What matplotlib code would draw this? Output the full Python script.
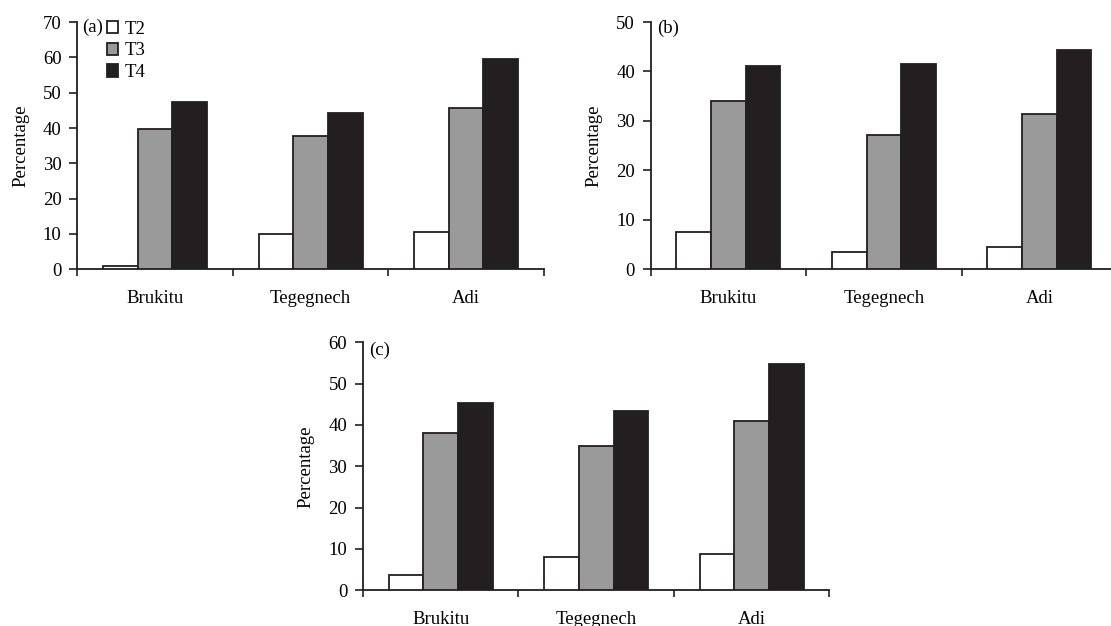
import matplotlib
matplotlib.use("Agg")
import matplotlib.pyplot as plt
import numpy as np

plt.rcParams['font.family'] = ['Liberation Serif', 'DejaVu Serif']

categories = ["Brukitu", "Tegegnech", "Adi"]
series = ["T2", "T3", "T4"]
colors = ["#ffffff", "#9a9a9b", "#231f20"]

a_T2 = [0.9, 10.0, 10.7]
a_T3 = [39.8, 37.7, 45.6]
a_T4 = [47.3, 44.3, 59.5]

b_T2 = [7.6, 3.4, 4.5]
b_T3 = [34.1, 27.2, 31.5]
b_T4 = [41.1, 41.6, 44.3]

c_T2 = [3.7, 8.1, 8.8]
c_T3 = [38.1, 34.8, 41.0]
c_T4 = [45.4, 43.4, 54.8]

panels = [
    ("(a)", [a_T2, a_T3, a_T4], 70, [0.0696, 0.5698, 0.4199, 0.3950], True, (0.011, 0.98)),
    ("(b)", [b_T2, b_T3, b_T4], 50, [0.5857, 0.5698, 0.4199, 0.3950], False, (0.013, 0.975)),
    ("(c)", [c_T2, c_T3, c_T4], 60, [0.3267, 0.0570, 0.4199, 0.3962], False, (0.013, 0.968)),
]

FS = 13.5
fig = plt.figure(figsize=(11.11, 6.26), dpi=100)
edge = "#231f20"
width = 0.223
offsets = [-width, 0.0, width]
centers = np.arange(len(categories)) + 0.5

for label, data, ymax, rect, show_legend, lpos in panels:
    ax = fig.add_axes(rect)
    for k, vals in enumerate(data):
        ax.bar(centers + offsets[k], vals, width=width, color=colors[k],
               edgecolor=edge, linewidth=1.3, label=series[k], zorder=3)
    ax.set_xlim(0, 3)
    ax.set_ylim(0, ymax)
    ax.set_yticks(np.arange(0, ymax + 1, 10))
    ax.set_xticks([0, 1, 2, 3])
    ax.set_xticklabels([])
    ax.set_xticks(centers, minor=True)
    ax.set_xticklabels(categories, minor=True)
    ax.tick_params(axis='x', which='major', direction='out', length=5.2, width=1.2, color=edge)
    ax.tick_params(axis='x', which='minor', length=0, pad=15, labelsize=FS)
    ax.tick_params(axis='y', direction='out', length=5.8, width=1.2, color=edge, labelsize=FS, pad=5.5)
    for s in ['top', 'right']:
        ax.spines[s].set_visible(False)
    for s in ['left', 'bottom']:
        ax.spines[s].set_linewidth(1.3)
        ax.spines[s].set_color(edge)
    ax.set_ylabel("Percentage", fontsize=FS, labelpad=10)
    ax.text(lpos[0], lpos[1], label, transform=ax.transAxes, fontsize=FS,
            ha='left', va='center')
    if show_legend:
        ax.legend(loc='upper left', bbox_to_anchor=(0.063, 1.005), frameon=False,
                  fontsize=FS, handlelength=0.62, handleheight=0.62,
                  handletextpad=0.36, labelspacing=0.25, borderaxespad=0,
                  borderpad=0)

fig.savefig("out.png", dpi=100)
